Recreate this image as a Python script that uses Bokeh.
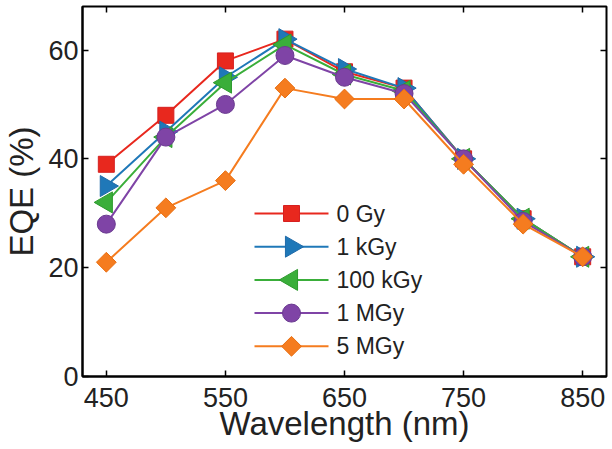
from bokeh.plotting import figure
from bokeh.models import Range1d, FixedTicker, LinearAxis, ColumnDataSource
from bokeh.core.properties import value
from bokeh.embed import file_html
from bokeh.resources import INLINE

wavelength = [450, 500, 550, 600, 650, 700, 750, 800, 850]
series_names = ["0 Gy", "1 kGy", "100 kGy", "1 MGy", "5 MGy"]
eqe_0gy = [39, 48, 58, 62, 56, 53, 40, 29, 22]
eqe_1kgy = [35, 45, 55, 62, 56.5, 53, 40, 29, 22]
eqe_100kgy = [32, 44, 54, 61, 55.5, 52.5, 40, 29, 22]
eqe_1mgy = [28, 44, 50, 59, 55, 52, 40, 28.5, 22]
eqe_5mgy = [21, 31, 36, 53, 51, 51, 39, 28, 22]
x_ticks = [450, 550, 650, 750, 850]
y_ticks = [0, 20, 40, 60]

colors = ["#e8281e", "#1f78b8", "#3aae3a", "#7f44a6", "#f57c1f"]
edge = ["#d62020", "#1f6aa8", "#2e9a2e", "#6a3a90", "#e86e10"]
markers = ["square", "triangle", "triangle", "circle", "square"]
angles = [0, -1.5707963, 1.5707963, 0, 0.7853982]
sizes = [16, 21, 21, 18, 14]

FONT = "Liberation Sans"
W, H = 612, 449
LEFT, RIGHT, TOP, BOTTOM = 81, 6, 6, 73

p = figure(width=W, height=H, output_backend="svg", toolbar_location=None,
           x_range=Range1d(430, 870), y_range=Range1d(0, 68),
           min_border_left=LEFT, min_border_right=RIGHT, min_border_top=TOP, min_border_bottom=BOTTOM,
           background_fill_color="white", border_fill_color="white")
p.grid.visible = False
p.outline_line_color = "black"
p.outline_line_width = 2

p.xaxis.ticker = FixedTicker(ticks=x_ticks)
p.yaxis.ticker = FixedTicker(ticks=y_ticks)
for ax in [p.xaxis[0], p.yaxis[0]]:
    ax.major_tick_in = 6
    ax.major_tick_out = 0
    ax.minor_tick_in = 0
    ax.minor_tick_out = 0
    ax.axis_line_width = 2
    ax.major_tick_line_width = 1.5
    ax.major_label_text_font = FONT
    ax.major_label_text_font_size = "27px"
    ax.major_label_text_color = "#222222"
    ax.axis_label_text_font = FONT
    ax.axis_label_text_font_size = "33px"
    ax.axis_label_text_font_style = "normal"
    ax.axis_label_text_color = "#222222"
p.xaxis.axis_label = "Wavelength (nm)"
p.yaxis.axis_label = "EQE (%)"
p.xaxis.major_label_standoff = 11
p.yaxis.major_label_standoff = 4
p.xaxis.axis_label_standoff = -5
p.yaxis.axis_label_standoff = 5

ax_top = LinearAxis(ticker=FixedTicker(ticks=x_ticks), major_tick_in=6, major_tick_out=0,
                    minor_tick_in=0, minor_tick_out=0,
                    major_label_overrides={t: "" for t in x_ticks},
                    axis_line_color=None, major_label_standoff=0, major_tick_line_width=1.5)
ax_right = LinearAxis(ticker=FixedTicker(ticks=y_ticks), major_tick_in=6, major_tick_out=0,
                      minor_tick_in=0, minor_tick_out=0,
                      major_label_overrides={t: "" for t in y_ticks},
                      axis_line_color=None, major_label_standoff=0, major_tick_line_width=1.5)
p.add_layout(ax_top, "above")
p.add_layout(ax_right, "right")

data = [eqe_0gy, eqe_1kgy, eqe_100kgy, eqe_1mgy, eqe_5mgy]
for i, name in enumerate(series_names):
    src = ColumnDataSource(dict(x=wavelength, y=data[i]))
    p.line("x", "y", source=src, line_color=colors[i], line_width=2)
    p.scatter("x", "y", source=src, marker=markers[i], size=sizes[i], angle=angles[i],
              fill_color=colors[i], line_color=edge[i], line_width=1)

# Legend drawn in a pixel-based frame range (layout only)
p.extra_x_ranges = {"px": Range1d(0, W - LEFT - RIGHT - 1)}
p.extra_y_ranges = {"px": Range1d(0, H - TOP - BOTTOM)}
leg_x0, leg_x1, leg_top, leg_step = 172, 246, 163, 33.2
for i, name in enumerate(series_names):
    yy = leg_top - i * leg_step
    xm = (leg_x0 + leg_x1) / 2
    p.segment(x0=[leg_x0], y0=[yy], x1=[leg_x1], y1=[yy], line_color=colors[i], line_width=2,
              x_range_name="px", y_range_name="px")
    p.scatter(x=[xm], y=[yy], marker=markers[i], size=sizes[i], angle=angles[i],
              fill_color=colors[i], line_color=edge[i], line_width=1,
              x_range_name="px", y_range_name="px")
    p.text(x=[leg_x1 + 8], y=[yy], text=[name], text_font=value(FONT), text_font_size="23px",
           text_baseline="middle", text_align="left", text_color="#222222",
           x_range_name="px", y_range_name="px")

open("out.html", "w").write(file_html(p, INLINE))
